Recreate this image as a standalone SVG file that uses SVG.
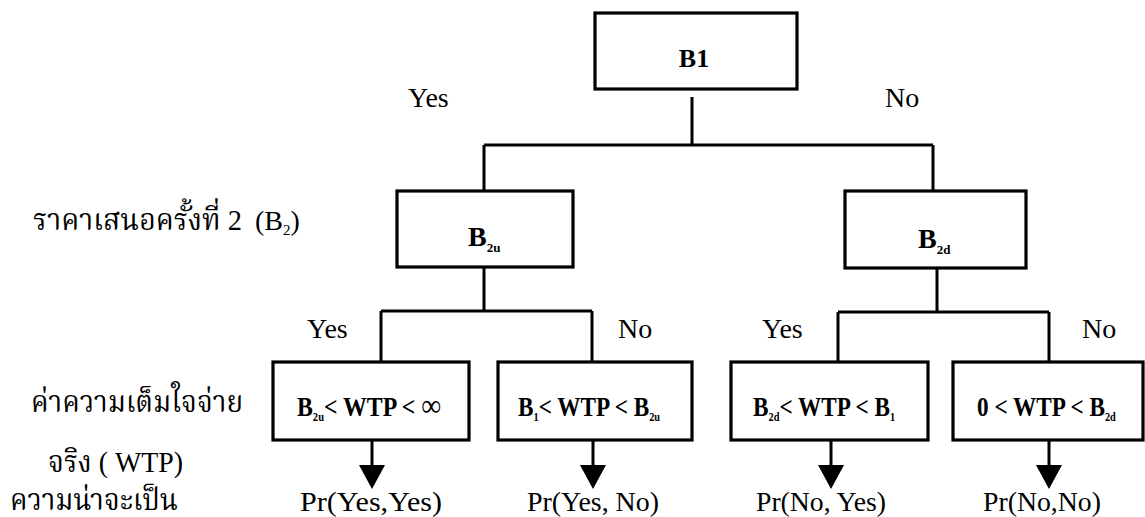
<svg xmlns="http://www.w3.org/2000/svg" width="1145" height="517" viewBox="0 0 1145 517">
<style>
.box{fill:#fff;stroke:#000;stroke-width:3.2}
.ln{fill:none;stroke:#000;stroke-width:3}
.lat{font-family:"Liberation Serif","Times New Roman","DejaVu Serif",serif;font-size:28px;fill:#000}
.bold{font-family:"Liberation Serif","Times New Roman","DejaVu Serif",serif;font-weight:bold;fill:#000}
.thai{font-family:"Liberation Serif","Noto Serif Thai","Noto Sans Thai","Tlwg Typo","Loma",serif;font-size:30px;fill:#000}
.sub{font-size:13px}
.bs{font-size:12px}
</style>
<defs>
<marker id="ah" markerUnits="userSpaceOnUse" markerWidth="26" markerHeight="28" refX="0" refY="13" orient="auto">
<path d="M0,0 L24,13 L0,26 z" fill="#000"/>
</marker>
</defs>
<rect width="1145" height="517" fill="#fff"/>

<g id="connectors">
<path class="ln" d="M692,97 V145 M484,145 H933 M484,145 V191 M933,145 V191"/>
<path class="ln" d="M484,267 V311 M381,311 H592 M381,311 V362 M592,311 V362"/>
<path class="ln" d="M937,268 V312 M838,312 H1049 M838,312 V362 M1049,312 V362"/>
<line class="ln" x1="372" y1="440" x2="372" y2="465" marker-end="url(#ah)"/>
<line class="ln" x1="593" y1="440" x2="593" y2="465" marker-end="url(#ah)"/>
<line class="ln" x1="831" y1="440" x2="831" y2="465" marker-end="url(#ah)"/>
<line class="ln" x1="1049" y1="440" x2="1049" y2="465" marker-end="url(#ah)"/>
</g>

<g id="node-b1">
<rect class="box" x="595" y="13" width="202" height="76"/>
<text class="bold" x="694" y="67" font-size="26" text-anchor="middle">B1</text>
</g>
<g id="node-b2u">
<rect class="box" x="397" y="191" width="176" height="76"/>
<text class="bold" x="468" y="246" font-size="28">B<tspan class="sub" dy="6">2u</tspan></text>
</g>
<g id="node-b2d">
<rect class="box" x="845" y="191" width="181" height="77"/>
<text class="bold" x="918" y="248" font-size="28">B<tspan class="sub" dy="6">2d</tspan></text>
</g>
<g id="node-w1">
<rect class="box" x="273" y="362" width="196" height="78"/>
<text class="bold" transform="translate(297,416) scale(0.88,1)" font-size="27">B<tspan class="bs" dy="5">2u</tspan><tspan dy="-5">&lt; WTP &lt; </tspan><tspan font-weight="normal" font-size="32">∞</tspan></text>
</g>
<g id="node-w2">
<rect class="box" x="498" y="362" width="194" height="78"/>
<text class="bold" transform="translate(518,416) scale(0.86,1)" font-size="27">B<tspan class="bs" dy="5">1</tspan><tspan dy="-5">&lt;  WTP &lt; B</tspan><tspan class="bs" dy="5">2u</tspan></text>
</g>
<g id="node-w3">
<rect class="box" x="731" y="362" width="197" height="78"/>
<text class="bold" transform="translate(753,416) scale(0.86,1)" font-size="27">B<tspan class="bs" dy="5">2d</tspan><tspan dy="-5">&lt; WTP &lt;  B</tspan><tspan class="bs" dy="5">1</tspan></text>
</g>
<g id="node-w4">
<rect class="box" x="953" y="362" width="190" height="78"/>
<text class="bold" transform="translate(977,416) scale(0.86,1)" font-size="27">0 &lt; WTP &lt; B<tspan class="bs" dy="5">2d</tspan></text>
</g>

<g id="labels">
<text class="lat" x="408" y="107">Yes</text>
<text class="lat" x="885" y="107">No</text>
<text class="lat" x="307" y="338">Yes</text>
<text class="lat" x="618" y="338">No</text>
<text class="lat" x="762" y="338">Yes</text>
<text class="lat" x="1082" y="338">No</text>
<text class="lat" x="300" y="511" font-size="30" textLength="142" lengthAdjust="spacingAndGlyphs">Pr(Yes,Yes)</text>
<text class="lat" x="527" y="511" font-size="30" textLength="132" lengthAdjust="spacingAndGlyphs">Pr(Yes, No)</text>
<text class="lat" x="756" y="511" font-size="30" textLength="130" lengthAdjust="spacingAndGlyphs">Pr(No, Yes)</text>
<text class="lat" x="983" y="511" font-size="30" textLength="118" lengthAdjust="spacingAndGlyphs">Pr(No,No)</text>
<text class="thai" x="33" y="230" textLength="209" lengthAdjust="spacingAndGlyphs">ราคาเสนอครั้งที่ 2</text>
<text class="lat" x="255" y="230" font-size="30">(B<tspan font-size="15" dy="5">2</tspan><tspan dy="-5">)</tspan></text>
<text class="thai" x="31" y="412" textLength="212" lengthAdjust="spacingAndGlyphs">ค่าความเต็มใจจ่าย</text>
<text class="thai" x="48" y="472" textLength="135" lengthAdjust="spacingAndGlyphs">จริง ( WTP)</text>
<text class="thai" x="10" y="510" textLength="168" lengthAdjust="spacingAndGlyphs">ความน่าจะเป็น</text>
</g>
</svg>
